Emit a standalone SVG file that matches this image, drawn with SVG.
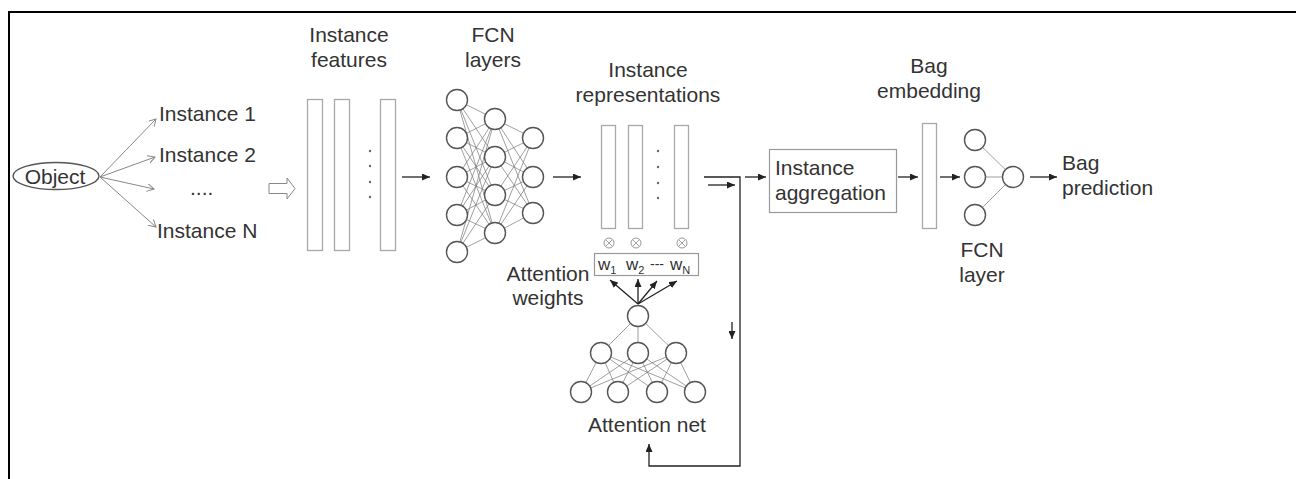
<svg xmlns="http://www.w3.org/2000/svg" width="1296" height="479" viewBox="0 0 1296 479">
<style>
.t{font-family:"Liberation Sans",Arial,sans-serif;font-size:21px;fill:#333}
.tc{text-anchor:middle}
.bar{fill:#fff;stroke:#a8a8a8;stroke-width:1.3}
.node{fill:#fff;stroke:#555;stroke-width:1.4}
.edge{stroke:#777;stroke-width:0.7}
.arr{stroke:#222;stroke-width:1.3;fill:none}
.garr{stroke:#888;stroke-width:1;fill:none}
.dot{fill:#666}
.ot{fill:#fff;stroke:#999;stroke-width:1}
</style>
<defs>
<marker id="ah" markerUnits="userSpaceOnUse" markerWidth="9" markerHeight="7" refX="8" refY="3.5" orient="auto">
<path d="M0,0 L8,3.5 L0,7 z" fill="#222"/>
</marker>
<marker id="oh" markerUnits="userSpaceOnUse" markerWidth="9" markerHeight="9" refX="7" refY="4" orient="auto">
<path d="M0,0 L7,4 L0,8" fill="none" stroke="#888" stroke-width="1"/>
</marker>
</defs>
<rect width="1296" height="479" fill="#fff"/>
<path d="M9,479 L9,12 L1296,12" fill="none" stroke="#000" stroke-width="2"/>

<g id="connectors">
<line class="garr" x1="100" y1="177" x2="156" y2="119" marker-end="url(#oh)"/>
<line class="garr" x1="100" y1="177" x2="155" y2="157" marker-end="url(#oh)"/>
<line class="garr" x1="100" y1="177" x2="154" y2="189" marker-end="url(#oh)"/>
<line class="garr" x1="100" y1="177" x2="156" y2="227" marker-end="url(#oh)"/>
<path d="M269,183.5 L287,183.5 L287,178 L295,188.5 L287,199 L287,193.5 L269,193.5 z" fill="#fff" stroke="#888" stroke-width="1"/>
<line class="arr" x1="402" y1="177" x2="430" y2="177" marker-end="url(#ah)"/>
<line class="arr" x1="553" y1="177" x2="581" y2="177" marker-end="url(#ah)"/>
<path class="arr" d="M704,177 L740,177 L740,466 L649,466 L649,444" marker-end="url(#ah)"/>
<line class="arr" x1="708" y1="185" x2="735" y2="185" marker-end="url(#ah)"/>
<line class="arr" x1="732" y1="322" x2="732" y2="339" marker-end="url(#ah)"/>
<line class="arr" x1="745" y1="177" x2="766" y2="177" marker-end="url(#ah)"/>
<line class="arr" x1="898" y1="177" x2="918" y2="177" marker-end="url(#ah)"/>
<line class="arr" x1="940" y1="177" x2="960" y2="177" marker-end="url(#ah)"/>
<line class="arr" x1="1030" y1="177" x2="1057" y2="177" marker-end="url(#ah)"/>
<line class="arr" x1="638" y1="304" x2="610" y2="280" marker-end="url(#ah)"/>
<line class="arr" x1="638" y1="304" x2="638" y2="279" marker-end="url(#ah)"/>
<line class="arr" x1="638" y1="304" x2="657" y2="281" marker-end="url(#ah)"/>
<line class="arr" x1="638" y1="304" x2="677" y2="281" marker-end="url(#ah)"/>
</g>

<g id="object">
<ellipse cx="56" cy="176" rx="43" ry="13.5" fill="#fff" stroke="#555" stroke-width="1.4"/>
<text class="t tc" x="55" y="184">Object</text>
</g>

<g id="instances">
<text class="t" x="159" y="121">Instance 1</text>
<text class="t" x="159" y="162">Instance 2</text>
<text class="t" x="190" y="195">....</text>
<text class="t" x="157" y="238">Instance N</text>
</g>

<g id="instance-features">
<text class="t tc" x="349" y="42">Instance</text>
<text class="t tc" x="349" y="67">features</text>
<rect class="bar" x="307.5" y="99.5" width="15" height="151"/>
<rect class="bar" x="334.5" y="99.5" width="15" height="151"/>
<rect class="bar" x="380.5" y="99.5" width="15" height="151"/>
<circle class="dot" cx="370" cy="151" r="1.2"/>
<circle class="dot" cx="370" cy="166" r="1.2"/>
<circle class="dot" cx="370" cy="182" r="1.2"/>
<circle class="dot" cx="370" cy="197" r="1.2"/>
</g>

<g id="fcn-layers">
<text class="t tc" x="493" y="42">FCN</text>
<text class="t tc" x="493" y="67">layers</text>
<g class="edge">
<line x1="457" y1="100" x2="495" y2="119"/><line x1="457" y1="100" x2="495" y2="157"/><line x1="457" y1="100" x2="495" y2="195"/><line x1="457" y1="100" x2="495" y2="233"/>
<line x1="457" y1="138" x2="495" y2="119"/><line x1="457" y1="138" x2="495" y2="157"/><line x1="457" y1="138" x2="495" y2="195"/><line x1="457" y1="138" x2="495" y2="233"/>
<line x1="457" y1="177" x2="495" y2="119"/><line x1="457" y1="177" x2="495" y2="157"/><line x1="457" y1="177" x2="495" y2="195"/><line x1="457" y1="177" x2="495" y2="233"/>
<line x1="457" y1="215" x2="495" y2="119"/><line x1="457" y1="215" x2="495" y2="157"/><line x1="457" y1="215" x2="495" y2="195"/><line x1="457" y1="215" x2="495" y2="233"/>
<line x1="457" y1="252" x2="495" y2="119"/><line x1="457" y1="252" x2="495" y2="157"/><line x1="457" y1="252" x2="495" y2="195"/><line x1="457" y1="252" x2="495" y2="233"/>
<line x1="495" y1="119" x2="533" y2="138"/><line x1="495" y1="119" x2="533" y2="177"/><line x1="495" y1="119" x2="533" y2="213"/>
<line x1="495" y1="157" x2="533" y2="138"/><line x1="495" y1="157" x2="533" y2="177"/><line x1="495" y1="157" x2="533" y2="213"/>
<line x1="495" y1="195" x2="533" y2="138"/><line x1="495" y1="195" x2="533" y2="177"/><line x1="495" y1="195" x2="533" y2="213"/>
<line x1="495" y1="233" x2="533" y2="138"/><line x1="495" y1="233" x2="533" y2="177"/><line x1="495" y1="233" x2="533" y2="213"/>
</g>
<circle class="node" cx="457" cy="100" r="10.5"/><circle class="node" cx="457" cy="138" r="10.5"/><circle class="node" cx="457" cy="177" r="10.5"/><circle class="node" cx="457" cy="215" r="10.5"/><circle class="node" cx="457" cy="252" r="10.5"/>
<circle class="node" cx="495" cy="119" r="10.5"/><circle class="node" cx="495" cy="157" r="10.5"/><circle class="node" cx="495" cy="195" r="10.5"/><circle class="node" cx="495" cy="233" r="10.5"/>
<circle class="node" cx="533" cy="138" r="10.5"/><circle class="node" cx="533" cy="177" r="10.5"/><circle class="node" cx="533" cy="213" r="10.5"/>
</g>

<g id="instance-representations">
<text class="t tc" x="648" y="77">Instance</text>
<text class="t tc" x="648" y="102">representations</text>
<rect class="bar" x="601.5" y="125.5" width="14" height="103"/>
<rect class="bar" x="628.5" y="125.5" width="14" height="103"/>
<rect class="bar" x="674.5" y="125.5" width="14" height="103"/>
<circle class="dot" cx="658" cy="151" r="1.2"/>
<circle class="dot" cx="658" cy="167" r="1.2"/>
<circle class="dot" cx="658" cy="183" r="1.2"/>
<circle class="dot" cx="658" cy="198" r="1.2"/>
<g class="ot">
<circle cx="609" cy="243" r="5"/><circle cx="636" cy="243" r="5"/><circle cx="682" cy="243" r="5"/>
</g>
<path d="M605.5,239.5 L612.5,246.5 M612.5,239.5 L605.5,246.5 M632.5,239.5 L639.5,246.5 M639.5,239.5 L632.5,246.5 M678.5,239.5 L685.5,246.5 M685.5,239.5 L678.5,246.5" stroke="#999" stroke-width="0.9"/>
</g>

<g id="attention-weights">
<rect x="594.5" y="253.5" width="104" height="22" fill="#fff" stroke="#999" stroke-width="1.2"/>
<text class="t" style="font-size:17px" x="598" y="270">w<tspan style="font-size:11px" dy="4">1</tspan></text>
<text class="t" style="font-size:17px" x="626" y="270">w<tspan style="font-size:11px" dy="4">2</tspan></text>
<text class="t" style="font-size:14px" x="650" y="269">---</text>
<text class="t" style="font-size:17px" x="670" y="270">w<tspan style="font-size:11px" dy="4">N</tspan></text>
<text class="t tc" x="548" y="281">Attention</text>
<text class="t tc" x="548" y="305">weights</text>
</g>

<g id="attention-net">
<g class="edge">
<line x1="638" y1="316" x2="601" y2="353"/><line x1="638" y1="316" x2="638" y2="353"/><line x1="638" y1="316" x2="676" y2="353"/>
<line x1="601" y1="353" x2="581" y2="392"/><line x1="601" y1="353" x2="618" y2="392"/><line x1="601" y1="353" x2="657" y2="392"/><line x1="601" y1="353" x2="695" y2="392"/>
<line x1="638" y1="353" x2="581" y2="392"/><line x1="638" y1="353" x2="618" y2="392"/><line x1="638" y1="353" x2="657" y2="392"/><line x1="638" y1="353" x2="695" y2="392"/>
<line x1="676" y1="353" x2="581" y2="392"/><line x1="676" y1="353" x2="618" y2="392"/><line x1="676" y1="353" x2="657" y2="392"/><line x1="676" y1="353" x2="695" y2="392"/>
</g>
<circle class="node" cx="638" cy="316" r="10.5"/>
<circle class="node" cx="601" cy="353" r="10.5"/><circle class="node" cx="638" cy="353" r="10.5"/><circle class="node" cx="676" cy="353" r="10.5"/>
<circle class="node" cx="581" cy="392" r="10.5"/><circle class="node" cx="618" cy="392" r="10.5"/><circle class="node" cx="657" cy="392" r="10.5"/><circle class="node" cx="695" cy="392" r="10.5"/>
<text class="t tc" x="647" y="432">Attention net</text>
</g>

<g id="instance-aggregation">
<rect x="769.5" y="149.5" width="127" height="63" fill="#fff" stroke="#999" stroke-width="1.2"/>
<text class="t" x="775" y="175">Instance</text>
<text class="t" x="775" y="200">aggregation</text>
</g>

<g id="bag-embedding">
<text class="t tc" x="929" y="73">Bag</text>
<text class="t tc" x="929" y="98">embedding</text>
<rect class="bar" x="922.5" y="123.5" width="14" height="105"/>
</g>

<g id="fcn-layer">
<g class="edge">
<line x1="975" y1="140" x2="1013" y2="177"/><line x1="975" y1="177" x2="1013" y2="177"/><line x1="975" y1="215" x2="1013" y2="177"/>
</g>
<circle class="node" cx="975" cy="140" r="10.5"/><circle class="node" cx="975" cy="177" r="10.5"/><circle class="node" cx="975" cy="215" r="10.5"/>
<circle class="node" cx="1013" cy="177" r="10.5"/>
<text class="t tc" x="982" y="257">FCN</text>
<text class="t tc" x="982" y="282">layer</text>
</g>

<g id="bag-prediction">
<text class="t" x="1062" y="170">Bag</text>
<text class="t" x="1062" y="195">prediction</text>
</g>
</svg>
